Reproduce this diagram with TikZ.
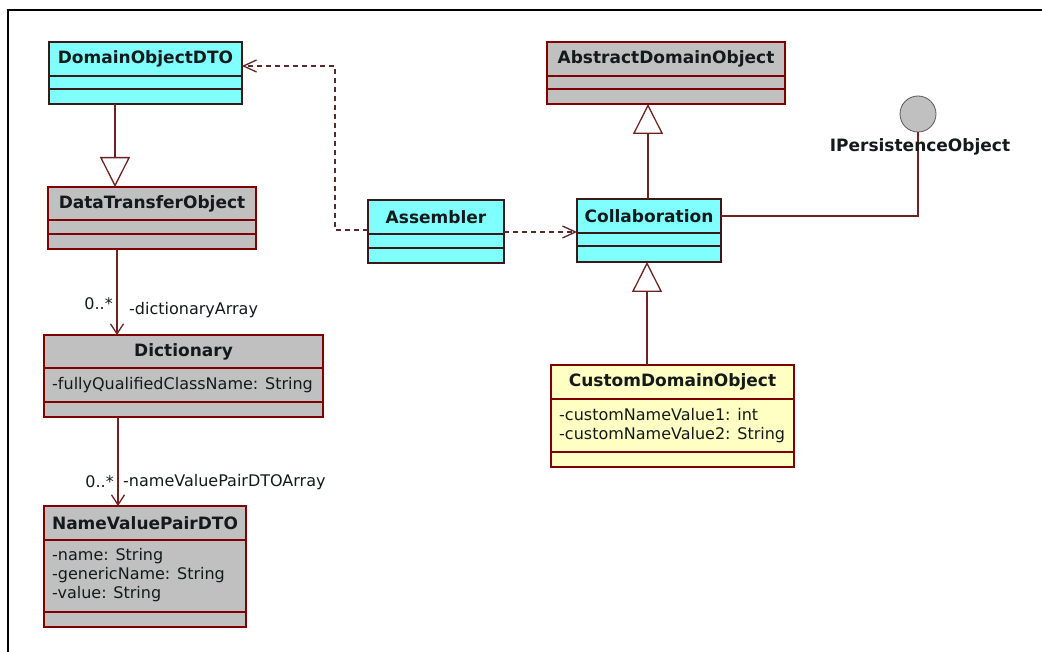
\documentclass[tikz,border=0pt]{standalone}
\usepackage{fontspec}
\setmainfont{DejaVu Sans}
\usetikzlibrary{arrows.meta,calc}
\definecolor{cyanc}{HTML}{80FFFF}
\definecolor{grayc}{HTML}{C0C0C0}
\definecolor{yelc}{HTML}{FFFFC4}
\definecolor{maroonc}{HTML}{800000}
\definecolor{darkc}{HTML}{3C1818}
\definecolor{linkc}{HTML}{6E2222}
\definecolor{depc}{HTML}{5A2A2A}
\definecolor{txtc}{HTML}{141A1A}
\tikzset{
  cls/.style={line width=1.3pt, rectangle, inner sep=0pt, outer sep=0pt},
  clsline/.style={line width=1.2pt},
  hdr/.style={font=\fontsize{17}{20}\selectfont\bfseries, text=txtc, inner sep=0pt},
  attr/.style={font=\fontsize{16}{19}\selectfont, text=txtc, inner sep=0pt, anchor=west},
  rolelbl/.style={font=\fontsize{16}{19}\selectfont, text=txtc, inner sep=0pt},
  gen/.style={draw=linkc, line width=1.3pt, -{Triangle[open, length=30pt, width=30pt, line width=1.3pt]}},
  assoc/.style={draw=linkc, line width=1.3pt, -{Straight Barb[length=10pt, width=13pt, line width=1.3pt]}},
  dep/.style={draw=depc, line width=1.4pt, dash pattern=on 5pt off 4pt, -{Straight Barb[length=13pt, width=12pt, line width=1.3pt]}},
  plain/.style={draw=linkc, line width=1.3pt},
}
% \classbox{name}{x1}{y1}{x2}{y2}{line1}{line2}{fill}{title}{border}
\newcommand\classbox[9]{%
  \node[cls, draw=\bordercol, fill=#8, minimum width={(#4-#2)*1pt}, minimum height={(#5-#3)*1pt}, anchor=north west] (#1) at (#2,#3) {};
  \draw[clsline, draw=\bordercol] (#2,#6) -- (#4,#6);
  \draw[clsline, draw=\bordercol] (#2,#7) -- (#4,#7);
  \node[hdr] (#1-t) at ({(#2+#4)/2},{(#3+#6)/2}) {#9};
}
\def\bordercol{maroonc}
\begin{document}
\begin{tikzpicture}[x=1pt, y=-1pt]
\useasboundingbox (0,0) rectangle (1042,652);
\fill[white] (0,0) rectangle (1042,652);
\draw[line width=2pt, black] (8,652) -- (8,10) -- (1042,10);

\def\bordercol{darkc}
\classbox{dto}{49}{42}{242}{104}{76}{89}{cyanc}{DomainObjectDTO}
\classbox{asm}{368}{200}{504}{263}{234}{248}{cyanc}{Assembler}
\classbox{coll}{577}{199}{721}{262}{233}{246}{cyanc}{Collaboration}
\def\bordercol{maroonc}
\classbox{dtoc}{48}{187}{256}{249}{220}{234}{grayc}{DataTransferObject}
\classbox{dict}{44}{335}{323}{417}{368}{402}{grayc}{Dictionary}
\classbox{nvp}{44}{506}{246}{627}{540}{612}{grayc}{NameValuePairDTO}
\classbox{abs}{547}{42}{785}{104}{76}{89}{grayc}{AbstractDomainObject}
\classbox{cust}{551}{365}{794}{467}{399}{452}{yelc}{CustomDomainObject}

\node[attr] (dict-a1) at (52,385) {-fullyQualifiedClassName: String};
\node[attr] (nvp-a1) at (52,556) {-name: String};
\node[attr] (nvp-a2) at (52,575) {-genericName: String};
\node[attr] (nvp-a3) at (52,594) {-value: String};
\node[attr] (cust-a1) at (559,415) {-customNameValue1: int};
\node[attr] (cust-a2) at (559,435) {-customNameValue2: String};

% interface lollipop
\node[circle, fill=grayc, draw=gray!70!black, line width=0.8pt, minimum size=36pt, inner sep=0pt] (ip) at (918,114) {};
\draw[plain] ([yshift=-17pt]coll.north east) -| (ip.south);
\node[hdr] (ip-t) at (920,147) {IPersistenceObject};

% generalizations
\draw[gen] ([xshift=66pt]dto.south west) -- ([xshift=67pt]dtoc.north west);
\draw[gen] ([xshift=71pt]coll.north west) -- ([xshift=101pt]abs.south west);
\draw[gen] ([xshift=96pt]cust.north west) -- ([xshift=70pt]coll.south west);

% associations
\draw[assoc] ([xshift=69pt]dtoc.south west) -- ([xshift=73pt]dict.north west);
\node[rolelbl, anchor=east] (m1) at (113,304) {0..*};
\node[rolelbl, anchor=west] (r1) at (129,310) {-dictionaryArray};
\draw[assoc] ([xshift=74pt]dict.south west) -- ([xshift=74pt]nvp.north west);
\node[rolelbl, anchor=east] (m2) at (114,482) {0..*};
\node[rolelbl, anchor=west] (r2) at (123,482) {-nameValuePairDTOArray};

% dependencies
\draw[dep] ([yshift=-30pt]asm.north west) -- ++(-33,0) |- ([yshift=-24pt]dto.north east);
\draw[dep] ([yshift=-32pt]asm.north east) -- ([yshift=-33pt]coll.north west);
\end{tikzpicture}
\end{document}
